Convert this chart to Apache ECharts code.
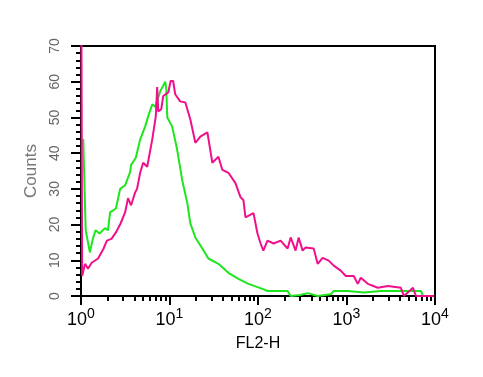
<!DOCTYPE html>
<html>
<head>
<meta charset="utf-8">
<script src="https://cdn.jsdelivr.net/npm/echarts@6/dist/echarts.min.js"></script>
<style>
html,body{margin:0;padding:0;background:#fff;}
#main{width:483px;height:377px;}
</style>
</head>
<body>
<div id="main"></div>
<script>
// FL2-H channel (log) and counts
var greenX = [1.06, 1.10, 1.13, 1.26, 1.36, 1.46, 1.62, 1.87, 2.02, 2.13, 2.48, 2.77, 3.15, 3.59, 3.68, 4.16, 4.66, 5.31, 5.74, 6.4, 6.9, 7.85, 8.95, 9.2, 9.44, 10.7, 12.2, 13.9, 15.9, 17.2, 19.6, 23.5, 27.5, 35.7, 46.3, 60.1, 78, 112, 128, 216, 234, 300, 364, 472, 663, 717, 1033, 1567, 2444, 6938, 7313];
var greenY = [44, 44, 18.4, 12.2, 16, 18.4, 17.5, 19, 18.4, 23.4, 24.5, 30, 31, 34.7, 36.7, 38.7, 43.8, 47.5, 50.3, 53.7, 53, 57.3, 60, 58, 50, 47.5, 41, 32.5, 26, 20.3, 16.4, 13.3, 10.5, 9, 6.5, 4.8, 3.4, 2, 1.4, 1.4, 0, 0.3, 0.8, 0, 0.5, 1.4, 1.4, 1, 1.4, 1.4, 0];

var pinkX = [1.01, 1.03, 1.11, 1.20, 1.32, 1.56, 1.80, 1.96, 2.21, 2.48, 2.80, 3.15, 3.40, 3.68, 4.09, 4.30, 4.66, 5.04, 5.60, 6.38, 7.0, 7.26, 7.46, 8.07, 8.50, 9.68, 10.3, 11.0, 11.6, 13.2, 15.1, 17.2, 19.6, 22.3, 26.8, 30.5, 35.7, 39.6, 46.3, 55.6, 63.4, 68.5, 72.2, 88.9, 98.7, 107, 115, 128, 150, 180, 216, 234, 266, 288, 319, 345, 426, 472, 538, 629, 717, 861, 982, 1208, 1341, 1450, 1741, 2261, 2933, 4117, 4456, 5636, 6093, 9800];
var pinkY = [80, 5.6, 9, 7.6, 9.3, 10.5, 13.3, 15.5, 16, 17.8, 20.3, 23.4, 27.4, 25.4, 29, 30, 34.5, 37.3, 36.2, 43.8, 50.3, 58.5, 51.7, 52.3, 56, 57, 60.2, 60.2, 56.5, 54.5, 54.2, 49.4, 42.9, 44.6, 45.8, 37.3, 39, 35.3, 34.5, 31.6, 27.7, 26.8, 22, 23.2, 17.5, 14.7, 12.7, 15.5, 14.7, 15.5, 13.3, 16.4, 12.7, 16.4, 12.7, 13.6, 13.3, 9, 10.7, 9.9, 8.5, 7.1, 5.6, 5.6, 3.4, 5.1, 3.4, 2.3, 2.8, 2.3, 0, 2.3, 0, 0];

var majorTicks = [1, 10, 100, 1000, 10000];
var minorTicks = [];
for (var d = 1; d < 10000; d *= 10) {
	for (var k = 2; k < 10; k++) { minorTicks.push(k * d); }
}

function pairs(xs, ys) {
	var out = [];
	for (var i = 0; i < xs.length; i++) { out.push([xs[i], ys[i]]); }
	return out;
}

var chart = echarts.init(document.getElementById('main'), null, {renderer: 'canvas'});
var font = 'Liberation Sans';
var option = {
	animation: false,
	backgroundColor: '#fff',
	grid: {
		left: 81, right: 48, top: 46, bottom: 81,
		show: true, borderColor: '#000', borderWidth: 2, backgroundColor: 'transparent'
	},
	xAxis: [{
		type: 'log', logBase: 10, min: 1, max: 10000, position: 'bottom',
		name: 'FL2-H', nameLocation: 'middle', nameGap: 40,
		nameTextStyle: {fontFamily: font, fontSize: 16, color: '#000'},
		axisLine: {lineStyle: {color: '#000', width: 2}},
		axisTick: {customValues: majorTicks, length: 9, lineStyle: {color: '#000', width: 2}},
		splitLine: {show: false},
		axisLabel: {
			customValues: majorTicks, margin: 11, color: '#000',
			formatter: function (v) {
				return '{b|10}{s|' + Math.round(Math.log10(v)) + '}';
			},
			rich: {
				b: {fontFamily: font, fontSize: 18, lineHeight: 22, verticalAlign: 'bottom', color: '#000'},
				s: {fontFamily: font, fontSize: 14, lineHeight: 14, verticalAlign: 'top', color: '#000'}
			}
		}
	}, {
		type: 'log', logBase: 10, min: 1, max: 10000, position: 'bottom',
		axisLine: {show: false},
		axisTick: {customValues: minorTicks, length: 5, lineStyle: {color: '#000', width: 2}},
		axisLabel: {show: false},
		splitLine: {show: false}
	}],
	yAxis: {
		type: 'value', min: 0, max: 70, interval: 10,
		name: 'Counts', nameLocation: 'middle', nameGap: 40,
		nameTextStyle: {fontFamily: font, fontSize: 17, color: '#777'},
		axisLine: {show: true, lineStyle: {color: '#000', width: 2}},
		axisTick: {show: true, length: 10, lineStyle: {color: '#000', width: 2}},
		minorTick: {show: true, splitNumber: 5, length: 5, lineStyle: {color: '#000', width: 2}},
		splitLine: {show: false},
		minorSplitLine: {show: false},
		axisLabel: {rotate: 90, margin: 19, fontFamily: font, fontSize: 14, color: '#666'}
	},
	series: [{
		name: 'control', type: 'line', xAxisIndex: 0, showSymbol: false, symbol: 'none',
		data: pairs(greenX, greenY), clip: true,
		lineStyle: {color: '#1ee61e', width: 2}
	}, {
		name: 'stained', type: 'line', xAxisIndex: 0, showSymbol: false, symbol: 'none',
		data: pairs(pinkX, pinkY), clip: true,
		lineStyle: {color: '#f0108c', width: 2}
	}]
};
chart.setOption(option);
</script>
</body>
</html>
